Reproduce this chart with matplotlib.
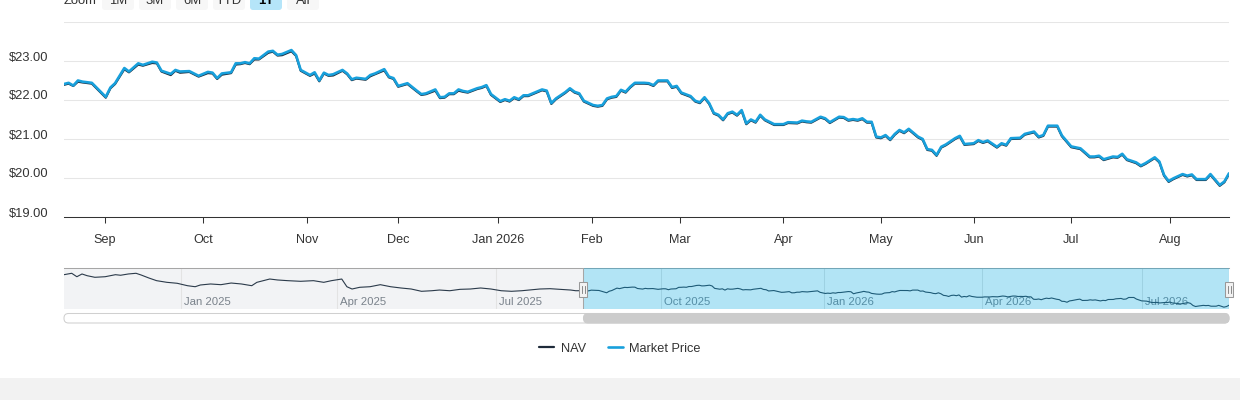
import numpy as np
import pandas as pd
import matplotlib
matplotlib.use("Agg")
import matplotlib.pyplot as plt
import matplotlib.transforms as mtransforms
from matplotlib.patches import FancyBboxPatch, Rectangle

plt.rcParams['font.family'] = ['Liberation Sans', 'DejaVu Sans']

# ── Trading calendar (Highcharts ordinal axis: one slot per session) ──────────
holidays = ['2024-11-28', '2024-12-25', '2025-01-01', '2025-01-09', '2025-01-20',
            '2025-02-17', '2025-04-18', '2025-05-26', '2025-06-19', '2025-07-04',
            '2025-09-01', '2025-11-27', '2025-12-25', '2026-01-01', '2026-01-19',
            '2026-02-16', '2026-04-03', '2026-05-25', '2026-06-19', '2026-07-03']
first_day = '2024-10-25'
window_start = '2025-08-19'
last_day = '2026-08-19'

# ── Data: session number counted from the start of the 1Y window ──────────────
price_session = [0, 1, 2, 3, 4, 6, 9, 10, 11, 13,
                 14, 16, 17, 19, 20, 21, 23, 24, 25, 27,
                 29, 31, 32, 33, 34, 36, 37, 38, 39, 40,
                 41, 42, 44, 45, 46, 47, 49, 50, 51, 53,
                 54, 55, 56, 57, 58, 60, 61, 62, 63, 65,
                 66, 67, 69, 70, 71, 72, 74, 76, 77, 78,
                 80, 81, 82, 83, 84, 85, 86, 87, 89, 90,
                 91, 92, 94, 95, 96, 97, 98, 99, 100, 103,
                 104, 105, 106, 108, 109, 110, 111, 112, 114, 115,
                 116, 117, 118, 119, 120, 121, 122, 123, 125, 126,
                 127, 128, 130, 131, 132, 133, 135, 136, 137, 138,
                 139, 140, 141, 142, 143, 144, 145, 146, 147, 148,
                 149, 150, 151, 153, 155, 156, 158, 159, 160, 161,
                 163, 164, 165, 167, 168, 169, 170, 171, 172, 173,
                 174, 175, 176, 177, 178, 179, 180, 181, 182, 183,
                 184, 185, 186, 187, 188, 189, 190, 192, 193, 194,
                 196, 197, 198, 199, 201, 202, 203, 204, 206, 207,
                 209, 210, 211, 212, 214, 215, 217, 219, 221, 222,
                 223, 224, 226, 227, 228, 229, 231, 232, 233, 235,
                 236, 237, 238, 239, 241, 242, 243, 244, 246, 247,
                 249, 250, 251]

market_price = [22.41, 22.44, 22.37, 22.50, 22.47, 22.44, 22.08, 22.32, 22.43, 22.82,
                22.73, 22.94, 22.90, 22.98, 22.96, 22.75, 22.67, 22.77, 22.73, 22.74,
                22.62, 22.72, 22.70, 22.56, 22.68, 22.71, 22.94, 22.94, 22.97, 22.94,
                23.07, 23.06, 23.24, 23.26, 23.16, 23.18, 23.28, 23.15, 22.77, 22.64,
                22.71, 22.50, 22.70, 22.64, 22.66, 22.77, 22.68, 22.53, 22.57, 22.54,
                22.64, 22.68, 22.79, 22.60, 22.56, 22.36, 22.43, 22.24, 22.15, 22.17,
                22.27, 22.07, 22.08, 22.17, 22.17, 22.27, 22.23, 22.21, 22.30, 22.33,
                22.38, 22.15, 21.97, 22.02, 21.98, 22.07, 22.02, 22.12, 22.12, 22.27,
                22.24, 21.92, 22.04, 22.20, 22.30, 22.21, 22.17, 21.98, 21.87, 21.85,
                21.87, 22.04, 22.08, 22.10, 22.26, 22.21, 22.34, 22.44, 22.44, 22.43,
                22.38, 22.50, 22.50, 22.33, 22.36, 22.19, 22.10, 21.98, 21.94, 22.07,
                21.92, 21.67, 21.62, 21.50, 21.66, 21.70, 21.62, 21.74, 21.40, 21.50,
                21.44, 21.62, 21.50, 21.38, 21.38, 21.43, 21.42, 21.47, 21.45, 21.44,
                21.57, 21.53, 21.43, 21.57, 21.56, 21.49, 21.51, 21.49, 21.53, 21.44,
                21.44, 21.06, 21.04, 21.10, 20.99, 21.13, 21.23, 21.17, 21.26, 21.16,
                21.06, 21.00, 20.74, 20.72, 20.59, 20.80, 20.86, 21.02, 21.08, 20.87,
                20.89, 20.97, 20.92, 20.96, 20.80, 20.89, 20.85, 21.02, 21.03, 21.13,
                21.19, 21.06, 21.10, 21.34, 21.34, 21.09, 20.81, 20.76, 20.55, 20.55,
                20.57, 20.48, 20.55, 20.54, 20.62, 20.48, 20.40, 20.32, 20.38, 20.53,
                20.42, 20.08, 19.92, 19.99, 20.10, 20.06, 20.09, 19.97, 19.97, 20.10,
                19.82, 19.91, 20.12]

nav = [22.39, 22.42, 22.36, 22.47, 22.45, 22.42, 22.06, 22.30, 22.41, 22.79,
       22.71, 22.91, 22.88, 22.95, 22.94, 22.73, 22.64, 22.75, 22.70, 22.72,
       22.60, 22.69, 22.68, 22.54, 22.65, 22.69, 22.91, 22.92, 22.95, 22.92,
       23.04, 23.04, 23.21, 23.24, 23.14, 23.15, 23.25, 23.13, 22.75, 22.62,
       22.68, 22.48, 22.68, 22.62, 22.63, 22.75, 22.66, 22.51, 22.55, 22.52,
       22.61, 22.66, 22.76, 22.58, 22.54, 22.34, 22.41, 22.22, 22.13, 22.15,
       22.24, 22.05, 22.06, 22.15, 22.15, 22.24, 22.21, 22.19, 22.28, 22.31,
       22.36, 22.13, 21.95, 22.00, 21.96, 22.05, 22.00, 22.10, 22.10, 22.25,
       22.22, 21.90, 22.02, 22.18, 22.28, 22.19, 22.15, 21.96, 21.85, 21.83,
       21.85, 22.02, 22.06, 22.08, 22.24, 22.19, 22.32, 22.42, 22.42, 22.41,
       22.36, 22.48, 22.48, 22.31, 22.34, 22.17, 22.08, 21.96, 21.92, 22.05,
       21.90, 21.65, 21.60, 21.48, 21.64, 21.68, 21.60, 21.72, 21.38, 21.48,
       21.42, 21.60, 21.48, 21.36, 21.36, 21.41, 21.40, 21.45, 21.43, 21.42,
       21.55, 21.51, 21.41, 21.55, 21.54, 21.47, 21.49, 21.47, 21.51, 21.42,
       21.42, 21.04, 21.02, 21.08, 20.97, 21.11, 21.21, 21.15, 21.24, 21.14,
       21.04, 20.98, 20.72, 20.70, 20.57, 20.78, 20.84, 21.00, 21.06, 20.85,
       20.87, 20.95, 20.90, 20.94, 20.78, 20.87, 20.83, 21.00, 21.01, 21.11,
       21.17, 21.04, 21.08, 21.32, 21.32, 21.07, 20.79, 20.74, 20.53, 20.53,
       20.55, 20.46, 20.53, 20.52, 20.60, 20.46, 20.38, 20.30, 20.36, 20.51,
       20.40, 20.06, 19.90, 19.97, 20.08, 20.04, 20.07, 19.95, 19.95, 20.08,
       19.80, 19.89, 20.10]

# older history, only shown in the navigator
hist_session = [-202, -199, -197, -195, -193, -190, -186, -182, -180, -177,
                -174, -172, -169, -166, -162, -158, -154, -151, -149, -145,
                -141, -137, -133, -129, -127, -122, -119, -115, -110, -105,
                -101, -98, -94, -92, -90, -87, -83, -79, -75, -71,
                -67, -63, -59, -56, -52, -48, -44, -40, -36, -32,
                -28, -24, -21, -17, -13, -9, -5, -3]
hist_nav = [24.90, 25.12, 24.58, 25.01, 24.74, 24.49, 24.58, 24.90, 24.81, 25.01,
            25.12, 24.85, 24.38, 23.96, 23.70, 23.55, 23.17, 23.01, 23.28, 23.44,
            23.33, 23.59, 23.44, 23.17, 23.70, 24.22, 24.07, 23.96, 23.86, 23.96,
            23.70, 23.96, 24.22, 23.01, 22.65, 22.92, 23.01, 23.33, 23.01, 22.81,
            22.65, 22.29, 22.38, 22.49, 22.38, 22.60, 22.65, 22.81, 22.65, 22.38,
            22.29, 22.38, 22.49, 22.65, 22.70, 22.60, 22.49, 22.38]

y_ticks = [19, 20, 21, 22, 23, 24]
y_labels = ['$19.00', '$20.00', '$21.00', '$22.00', '$23.00', '']
main_month_starts = ['2025-09-01', '2025-10-01', '2025-11-01', '2025-12-01', '2026-01-01',
                     '2026-02-01', '2026-03-01', '2026-04-01', '2026-05-01', '2026-06-01',
                     '2026-07-01', '2026-08-01']
month_labels = ['Sep', 'Oct', 'Nov', 'Dec', 'Jan 2026', 'Feb', 'Mar', 'Apr',
                'May', 'Jun', 'Jul', 'Aug']
nav_month_starts = ['2025-01-01', '2025-04-01', '2025-07-01', '2025-10-01',
                    '2026-01-01', '2026-04-01', '2026-07-01']
nav_labels = ['Jan 2025', 'Apr 2025', 'Jul 2025', 'Oct 2025', 'Jan 2026', 'Apr 2026', 'Jul 2026']
zoom_buttons = ['1M', '3M', '6M', 'YTD', '1Y', 'All']
selected_button = '1Y'

assert len(price_session) == len(market_price) == len(nav)
assert len(hist_session) == len(hist_nav)

# ordinal positions: month-start dates fall between neighbouring sessions
days = pd.bdate_range(first_day, last_day, freq='C', holidays=holidays)
sess_no = np.arange(len(days)) - days.get_loc(pd.Timestamp(window_start))


def ordinal(dates):
    t = pd.DatetimeIndex(dates).asi8.astype(float)
    return np.interp(t, days.asi8.astype(float), sess_no)


main_ticks = ordinal(main_month_starts)
nav_ticks = ordinal(nav_month_starts)

# ── Figure ───────────────────────────────────────────────────────────────────
W, H = 1240, 400
fig = plt.figure(figsize=(W / 100, H / 100), dpi=100)
fig.patch.set_facecolor('white')


def box(x0, y0, x1, y1):
    return [x0 / W, 1 - y1 / H, (x1 - x0) / W, (y1 - y0) / H]


BLUE = '#18a0dc'
DARK = '#1e2b3a'
TXT = '#333333'

# --- main chart ---
ax = fig.add_axes(box(64, 22, 1229, 217))
nav_line, = ax.plot(price_session, nav, color=DARK, lw=1.6, zorder=2,
                    solid_joinstyle='round', solid_capstyle='round')
price_line, = ax.plot(price_session, market_price, color=BLUE, lw=1.9, zorder=3,
                      solid_joinstyle='round', solid_capstyle='round')
ax.set_xlim(price_session[0], price_session[-1])
ax.set_ylim(y_ticks[0], y_ticks[-1])
ax.set_yticks(y_ticks)
ax.set_yticklabels(y_labels)
ax.set_xticks(main_ticks)
ax.set_xticklabels(month_labels)
ax.yaxis.grid(True, color='#e6e6e6', lw=0.75)
ax.set_axisbelow(True)
for s in ['top', 'left', 'right']:
    ax.spines[s].set_visible(False)
ax.spines['bottom'].set_color(TXT)
ax.spines['bottom'].set_linewidth(0.75)
ax.spines['bottom'].set_zorder(4)
ax.tick_params(axis='y', length=0, pad=11, labelsize=9.3, labelcolor=TXT)
ax.tick_params(axis='x', length=4, width=0.75, color=TXT, pad=8, labelsize=9.1, labelcolor=TXT)
up = mtransforms.ScaledTranslation(0, 5 / 100, fig.dpi_scale_trans)
for lbl in ax.get_yticklabels():
    lbl.set_transform(lbl.get_transform() + up)

# --- navigator ---
nv = fig.add_axes(box(64, 268, 1229, 309))
all_session = hist_session + price_session
all_nav = hist_nav + nav
nv.set_xlim(all_session[0], all_session[-1])
nv.set_ylim(19.51, 25.95)
nv.axvspan(all_session[0], price_session[0], color='#f2f3f5', lw=0, zorder=0)
lab_tr = mtransforms.blended_transform_factory(nv.transData, nv.transAxes) + \
    mtransforms.ScaledTranslation(3 / 100, 0, fig.dpi_scale_trans)
for s, lab in zip(nav_ticks, nav_labels):
    nv.axvline(s, color='#e3e3e3', lw=0.75, zorder=1)
    nv.text(s, 0.17, lab, transform=lab_tr, ha='left', va='center',
            fontsize=8.2, color='#7a828b', zorder=1)
nv.plot(all_session, all_nav, color='#2b3a4a', lw=0.8, zorder=2)
nv.axvspan(price_session[0], price_session[-1], color='#00a8e1', alpha=0.3, lw=0, zorder=4)
for s in [price_session[0], price_session[-1]]:
    nv.axvline(s, color='#a6a6a6', lw=0.75, zorder=5)
for s in ['left', 'right', 'bottom']:
    nv.spines[s].set_visible(False)
nv.spines['top'].set_color('#a6a6a6')
nv.spines['top'].set_linewidth(0.75)
nv.set_xticks([])
nv.set_yticks([])

# --- chrome overlay in pixel units (buttons, handles, scrollbar) ---
ch = fig.add_axes([0, 0, 1, 1], zorder=10)
ch.set_xlim(0, W)
ch.set_ylim(H, 0)
ch.axis('off')

sel_x0 = nv.transData.transform((price_session[0], 20))[0]
sel_x1 = nv.transData.transform((price_session[-1], 20))[0]

ch.add_patch(FancyBboxPatch((64, 313.5), 1165, 9.5, boxstyle='round,pad=0,rounding_size=4.5',
                            fc='white', ec='#d0d0d0', lw=0.75))
ch.add_patch(FancyBboxPatch((sel_x0, 313.5), sel_x1 - sel_x0, 9.5,
                            boxstyle='round,pad=0,rounding_size=4.5',
                            fc='#cccccc', ec='#cccccc', lw=0.75))
for hx in [sel_x0, sel_x1]:
    ch.add_patch(Rectangle((hx - 4, 282), 8, 15, fc='#f2f2f2', ec='#999999', lw=0.75))
    for dx in [-1.5, 1.5]:
        ch.plot([hx + dx, hx + dx], [286, 293], color='#777777', lw=0.6)

ch.text(64, 4, 'Zoom', ha='left', va='baseline', fontsize=9.4, color=TXT)
for i, b in enumerate(zoom_buttons):
    bx = 102 + i * 37
    sel = b == selected_button
    ch.add_patch(FancyBboxPatch((bx, -20), 32, 30, boxstyle='round,pad=0,rounding_size=3',
                                fc='#b5e5f9' if sel else '#f7f7f7', ec='none'))
    ch.text(bx + 16, 4, b, ha='center', va='baseline', fontsize=9.4,
            color='#000000' if sel else TXT, fontweight='bold' if sel else 'normal')

ch.add_patch(Rectangle((0, 378), W, 22, fc='#f2f2f2', ec='none'))

fig.legend(handles=[nav_line, price_line], labels=['NAV', 'Market Price'],
           loc='center', bbox_to_anchor=(0.5, 1 - 348.5 / H), ncol=2, frameon=False,
           fontsize=9.2, labelcolor=TXT, handlelength=1.2, handletextpad=0.5,
           columnspacing=1.7)

fig.savefig('out.png', dpi=100)
